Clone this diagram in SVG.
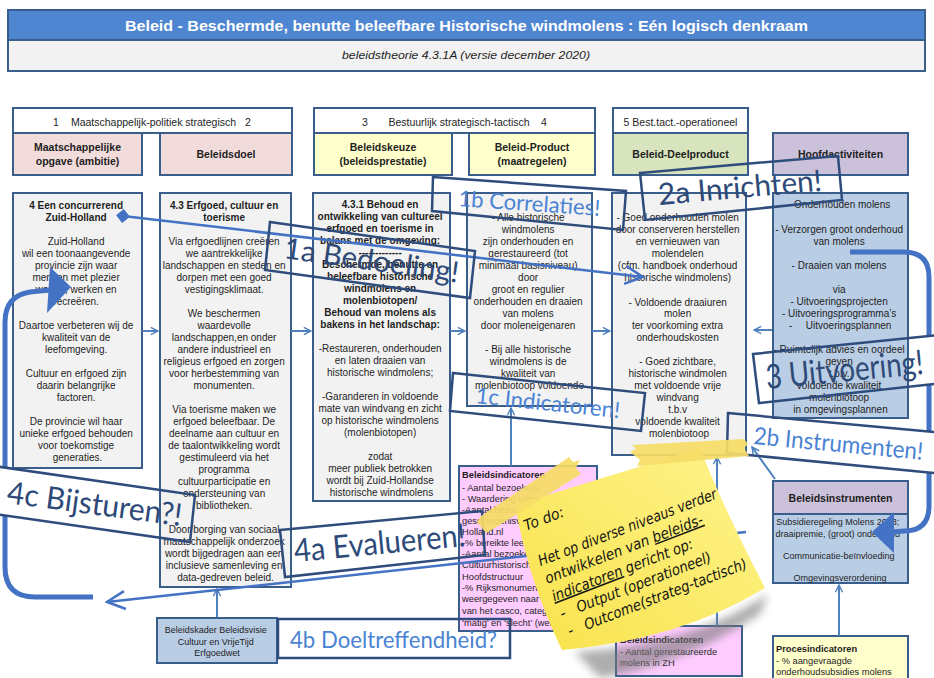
<svg xmlns="http://www.w3.org/2000/svg" width="934" height="678" viewBox="0 0 934 678">
<defs>
<style>
.bx{stroke:#3A5E8C;stroke-width:2}
.w{fill:#fff}.g{fill:#F2F2F2}.pk{fill:#F2DCDB}.yl{fill:#FFFFCC}.gr{fill:#D7E4BD}.pu{fill:#CCC1DA}.lb{fill:#B9CDE5}.mg{fill:#FFCCFF}
text{font-family:"Liberation Sans",Arial,sans-serif}
.t{font-size:10px;fill:#1E1E1E;text-anchor:middle}
.s{font-size:9px;fill:#1E1E1E;text-anchor:middle}
.sl{font-size:9.3px;fill:#1E1E1E}
.b{font-weight:bold}
.h{font-size:10.5px;font-weight:bold;fill:#1E1E1E;text-anchor:middle}
.gh{font-size:10.5px;fill:#1E1E1E;text-anchor:middle}
.cn{fill:none;stroke:#4F81BD;stroke-width:2}
.tk{fill:none;stroke:#4472C4;stroke-width:5}
.cb{fill:none;stroke:#2E4C7C;stroke-width:2.5}
.co{font-family:Lato,"Liberation Sans",sans-serif}
.dk{fill:#2D4A78}.lt{fill:#4A83D3}
.nt{font-family:"DejaVu Sans",sans-serif;font-style:oblique;font-size:15px;fill:#141414}
</style>
<marker id="oa" viewBox="0 0 10 10" refX="9" refY="5" markerWidth="9" markerHeight="9" markerUnits="userSpaceOnUse" orient="auto"><path d="M1,1 L9,5 L1,9" fill="none" stroke="#4F81BD" stroke-width="1.6"/></marker>
<marker id="oaL" viewBox="0 0 22 22" refX="20" refY="11" markerWidth="22" markerHeight="22" markerUnits="userSpaceOnUse" orient="auto"><path d="M2,2 L20,11 L2,20" fill="none" stroke="#4472C4" stroke-width="2.5"/></marker>
<marker id="dia" viewBox="0 0 14 14" refX="7" refY="7" markerWidth="14" markerHeight="14" markerUnits="userSpaceOnUse" orient="auto"><path d="M0,7 L7,0 L14,7 L7,14 Z" fill="#4472C4"/></marker>
<mask id="m" maskUnits="userSpaceOnUse" x="0" y="0" width="934" height="678">
<rect width="934" height="678" fill="#fff"/>
<polygon points="-20,464 195,495 190,542 -20,512" fill="#000"/>
<polygon points="753,354 940,335 943,383 759,403" fill="#000"/>
<polygon points="728,413 945,433 945,474 727,453" fill="#000"/>
</mask>
<linearGradient id="ng" x1="0" y1="1" x2="1" y2="0"><stop offset="0" stop-color="#F8E24A"/><stop offset="1" stop-color="#FFF48E"/></linearGradient>
<filter id="bl" x="-20%" y="-20%" width="140%" height="140%"><feGaussianBlur stdDeviation="4"/></filter>
</defs>
<rect width="934" height="678" fill="#fff"/>

<g id="title">
<rect x="8" y="10" width="917" height="30" fill="#4F86D1" stroke="#3A5E8C" stroke-width="2"/>
<rect x="8" y="40" width="917" height="31" fill="#F2F2F2" stroke="#3A5E8C" stroke-width="2"/>
<text x="466.5" y="31" text-anchor="middle" font-size="15" font-weight="bold" fill="#fff" textLength="683" lengthAdjust="spacingAndGlyphs">Beleid - Beschermde, benutte beleefbare Historische windmolens : Eén logisch denkraam</text>
<text x="466" y="59" text-anchor="middle" font-size="10.5" font-style="italic" fill="#1E1E1E" textLength="248" lengthAdjust="spacingAndGlyphs">beleidstheorie 4.3.1A  (versie december 2020)</text>
</g>

<g id="header-1">
<rect class="bx w" x="13" y="108" width="279" height="25"/>
<text class="gh" x="56" y="125.5">1</text>
<text class="gh" x="153.5" y="125.5">Maatschappelijk-politiek strategisch</text>
<text class="gh" x="248" y="125.5">2</text>
</g>
<g id="header-3">
<rect class="bx w" x="314" y="108" width="281" height="25"/>
<text class="gh" x="365" y="125.5">3</text>
<text class="gh" x="459" y="125.5">Bestuurlijk strategisch-tactisch</text>
<text class="gh" x="544" y="125.5">4</text>
</g>
<g id="header-5">
<rect class="bx w" x="613" y="108" width="135" height="25"/>
<text class="gh" x="680.5" y="125.5">5 Best.tact.-operationeel</text>
</g>
<g id="sub-opgave"><rect class="bx pk" x="13" y="133" width="129" height="42"/><text class="h" x="77.5" y="150.5">Maatschappelijke</text><text class="h" x="77.5" y="164.5">opgave (ambitie)</text></g>
<g id="sub-doel"><rect class="bx pk" x="160" y="133" width="132" height="42"/><text class="h" x="226" y="158">Beleidsdoel</text></g>
<g id="sub-keuze"><rect class="bx yl" x="314" y="133" width="138" height="42"/><text class="h" x="383" y="150.5">Beleidskeuze</text><text class="h" x="383" y="164.5">(beleidsprestatie)</text></g>
<g id="sub-product"><rect class="bx yl" x="469" y="133" width="126" height="42"/><text class="h" x="532" y="150.5">Beleid-Product</text><text class="h" x="532" y="164.5">(maatregelen)</text></g>
<g id="sub-deelproduct"><rect class="bx gr" x="613" y="133" width="135" height="42"/><text class="h" x="680.5" y="158">Beleid-Deelproduct</text></g>
<g id="sub-hoofd"><rect class="bx pu" x="773" y="133" width="135" height="42"/><text class="h" x="840.5" y="158">Hoofdactiviteiten</text></g>

<g id="col1">
<rect class="bx g" x="13" y="193" width="129" height="275"/>
<text class="t">
<tspan class="b" x="77.5" y="209">4 Een concurrerend</tspan>
<tspan class="b" x="77.5" y="221">Zuid-Holland</tspan>
<tspan x="77.5" y="245">Zuid-Holland</tspan>
<tspan x="77.5" y="257">wil een toonaangevende</tspan>
<tspan x="77.5" y="269">provincie zijn waar</tspan>
<tspan x="77.5" y="281">mensen met plezier</tspan>
<tspan x="77.5" y="293">wonen, werken en</tspan>
<tspan x="77.5" y="305">recreëren.</tspan>
<tspan x="77.5" y="329">Daartoe verbeteren wij de</tspan>
<tspan x="77.5" y="341">kwaliteit van de</tspan>
<tspan x="77.5" y="353">leefomgeving.</tspan>
<tspan x="77.5" y="377">Cultuur en erfgoed zijn</tspan>
<tspan x="77.5" y="389">daarin belangrijke</tspan>
<tspan x="77.5" y="401">factoren.</tspan>
<tspan x="77.5" y="425">De provincie wil haar</tspan>
<tspan x="77.5" y="437">unieke erfgoed behouden</tspan>
<tspan x="77.5" y="449">voor toekomstige</tspan>
<tspan x="77.5" y="461">generaties.</tspan>
</text>
</g>

<g id="col2">
<rect class="bx g" x="160" y="193" width="131" height="394"/>
<text class="t">
<tspan class="b" x="225.5" y="209">4.3 Erfgoed, cultuur en</tspan>
<tspan class="b" x="225.5" y="221">toerisme</tspan>
<tspan x="225.5" y="245">Via erfgoedlijnen creëren</tspan>
<tspan x="225.5" y="257">we aantrekkelijke</tspan>
<tspan x="225.5" y="269">landschappen en steden en</tspan>
<tspan x="225.5" y="281">dorpen met een goed</tspan>
<tspan x="225.5" y="293">vestigingsklimaat.</tspan>
<tspan x="225.5" y="317">We beschermen</tspan>
<tspan x="225.5" y="329">waardevolle</tspan>
<tspan x="225.5" y="341">landschappen,en onder</tspan>
<tspan x="225.5" y="353">andere industrieel en</tspan>
<tspan x="225.5" y="365">religieus erfgoed en zorgen</tspan>
<tspan x="225.5" y="377">voor herbestemming van</tspan>
<tspan x="225.5" y="389">monumenten.</tspan>
<tspan x="225.5" y="413">Via toerisme maken we</tspan>
<tspan x="225.5" y="425">erfgoed beleefbaar. De</tspan>
<tspan x="225.5" y="437">deelname aan cultuur en</tspan>
<tspan x="225.5" y="449">de taalontwikkeling wordt</tspan>
<tspan x="225.5" y="461">gestimuleerd via het</tspan>
<tspan x="225.5" y="473">programma</tspan>
<tspan x="225.5" y="485">cultuurparticipatie en</tspan>
<tspan x="225.5" y="497">ondersteuning van</tspan>
<tspan x="225.5" y="509">bibliotheken.</tspan>
<tspan x="225.5" y="533">Door borging van sociaal</tspan>
<tspan x="225.5" y="545">maatschappelijk onderzoek</tspan>
<tspan x="225.5" y="557">wordt bijgedragen aan een</tspan>
<tspan x="225.5" y="569">inclusieve samenleving en</tspan>
<tspan x="225.5" y="581">data-gedreven beleid.</tspan>
</text>
</g>

<g id="col3">
<rect class="bx g" x="313" y="193" width="137" height="308"/>
<text class="t">
<tspan class="b" x="381.5" y="208">4.3.1 Behoud en</tspan>
<tspan class="b" x="381.5" y="220">ontwikkeling van cultureel</tspan>
<tspan class="b" x="381.5" y="232">erfgoed en toerisme in</tspan>
<tspan class="b" x="381.5" y="244">balans met de omgeving:</tspan>
<tspan class="b" x="381.5" y="256">-------------</tspan>
<tspan class="b" x="381.5" y="268">Beschermde, benutte en</tspan>
<tspan class="b" x="381.5" y="280">beleefbare historische</tspan>
<tspan class="b" x="381.5" y="292">windmolens en</tspan>
<tspan class="b" x="381.5" y="304">molenbiotopen/</tspan>
<tspan class="b" x="381.5" y="316">Behoud van molens als</tspan>
<tspan class="b" x="381.5" y="328">bakens in het landschap:</tspan>
<tspan x="381.5" y="352">-Restaureren, onderhouden</tspan>
<tspan x="381.5" y="364">en laten draaien van</tspan>
<tspan x="381.5" y="376">historische windmolens;</tspan>
<tspan x="381.5" y="400">-Garanderen in voldoende</tspan>
<tspan x="381.5" y="412">mate van windvang en zicht</tspan>
<tspan x="381.5" y="424">op historische windmolens</tspan>
<tspan x="381.5" y="436">(molenbiotopen)</tspan>
<tspan x="381.5" y="460">zodat</tspan>
<tspan x="381.5" y="472">meer publiek betrokken</tspan>
<tspan x="381.5" y="484">wordt bij Zuid-Hollandse</tspan>
<tspan x="381.5" y="496">historische windmolens</tspan>
</text>
</g>

<g id="col4">
<rect class="bx g" x="467" y="193" width="125" height="213"/>
<text class="t">
<tspan x="529.5" y="221">- Alle historische</tspan>
<tspan x="529.5" y="233">windmolens</tspan>
<tspan x="529.5" y="245">zijn onderhouden en</tspan>
<tspan x="529.5" y="257">gerestaureerd (tot</tspan>
<tspan x="529.5" y="269">minimaal basisniveau)</tspan>
<tspan x="529.5" y="281">door</tspan>
<tspan x="529.5" y="293">groot en regulier</tspan>
<tspan x="529.5" y="305">onderhouden en draaien</tspan>
<tspan x="529.5" y="317">van molens</tspan>
<tspan x="529.5" y="329">door moleneigenaren</tspan>
<tspan x="529.5" y="353">- Bij alle historische</tspan>
<tspan x="529.5" y="365">windmolens is de</tspan>
<tspan x="529.5" y="377">kwaliteit van</tspan>
<tspan x="529.5" y="389">molenbiotoop voldoende</tspan>
</text>
</g>

<g id="col5">
<rect class="bx g" x="612" y="193" width="134" height="262"/>
<text class="t">
<tspan x="679" y="221">- Goed onderhouden molen</tspan>
<tspan x="679" y="233">door conserveren herstellen</tspan>
<tspan x="679" y="245">en vernieuwen van</tspan>
<tspan x="679" y="257">molendelen</tspan>
<tspan x="679" y="269">(cfm. handboek onderhoud</tspan>
<tspan x="679" y="281">historische windmolens)</tspan>
<tspan x="679" y="306">- Voldoende draaiuren</tspan>
<tspan x="679" y="317">molen</tspan>
<tspan x="679" y="329">ter voorkoming extra</tspan>
<tspan x="679" y="341">onderhoudskosten</tspan>
<tspan x="679" y="365">- Goed zichtbare,</tspan>
<tspan x="679" y="377">historische windmolen</tspan>
<tspan x="679" y="389">met  voldoende vrije</tspan>
<tspan x="679" y="401">windvang</tspan>
<tspan x="679" y="413">t.b.v</tspan>
<tspan x="679" y="425">voldoende kwaliteit</tspan>
<tspan x="679" y="437">molenbiotoop</tspan>
</text>
</g>

<g id="col6">
<rect class="bx lb" x="773" y="193" width="135" height="225"/>
<text class="t">
<tspan x="840.5" y="208">- Onderhouden molens</tspan>
<tspan x="840.5" y="233">- Verzorgen groot onderhoud</tspan>
<tspan x="840.5" y="245">van molens</tspan>
<tspan x="840.5" y="269">- Draaien van molens</tspan>
<tspan x="840.5" y="293">via</tspan>
<tspan x="840.5" y="305">- Uitvoeringsprojecten</tspan>
<tspan x="840.5" y="317">- Uitvoeringsprogramma’s</tspan>
<tspan x="792" y="329">-</tspan>
<tspan x="850" y="329">Uitvoeringsplannen</tspan>
<tspan x="840.5" y="353">- Ruimtelijk advies en oordeel</tspan>
<tspan x="840.5" y="365">geven</tspan>
<tspan x="840.5" y="377">t.b.v.</tspan>
<tspan x="840.5" y="389">voldoende kwaliteit</tspan>
<tspan x="840.5" y="401">molenbiotoop</tspan>
<tspan x="840.5" y="413">in omgevingsplannen</tspan>
</text>
</g>

<g id="instrumenten">
<rect class="bx pu" x="773" y="481" width="135" height="33"/>
<text class="h" x="840.5" y="502">Beleidsinstrumenten</text>
<rect class="bx lb" x="773" y="514" width="135" height="69"/>
<text class="s">
<tspan x="839" y="525">Subsidieregeling Molens 2013;</tspan>
<tspan x="839" y="537">draaipremie, (groot) onderhoud</tspan>
<tspan x="840" y="559">Communicatie-beïnvloeding</tspan>
<tspan x="840" y="581">Omgevingsverordening</tspan>
</text>
</g>

<g id="indicatoren-1">
<rect class="bx mg" x="459" y="466" width="138" height="165"/>
<text class="sl">
<tspan class="b" x="462" y="478">Beleidsindicatoren</tspan>
<tspan x="462" y="491">- Aantal bezoekers</tspan>
<tspan x="462" y="502">- Waardering erfgoedlijnen</tspan>
<tspan x="462" y="513">-Aantal bezoekers website</tspan>
<tspan x="462" y="524">geschiedenisvanZuid-</tspan>
<tspan x="462" y="535">Holland.nl</tspan>
<tspan x="462" y="546">-% bereikte leerlingen</tspan>
<tspan x="462" y="557">-Aantal bezoekers</tspan>
<tspan x="462" y="568">Cultuurhistorische</tspan>
<tspan x="462" y="580">Hoofdstructuur</tspan>
<tspan x="462" y="591">-% Rijksmonumenten</tspan>
<tspan x="462" y="602">weergegeven naar conditie</tspan>
<tspan x="462" y="614">van het casco, categorie</tspan>
<tspan x="462" y="626">‘matig’ en ‘slecht’ (wettelijk)</tspan>
</text>
</g>

<g id="indicatoren-2">
<rect class="bx mg" x="616" y="626" width="126" height="50"/>
<text class="sl">
<tspan class="b" x="620" y="643">Beleidsindicatoren</tspan>
<tspan x="620" y="655">- Aantal gerestaureerde</tspan>
<tspan x="620" y="666">molens in ZH</tspan>
</text>
</g>

<g id="procesindicatoren">
<rect class="bx yl" x="773" y="636" width="135" height="52"/>
<text class="sl">
<tspan class="b" x="776" y="652">Procesindicatoren</tspan>
<tspan x="776" y="664">- % aangevraagde</tspan>
<tspan x="776" y="675">onderhoudsubsidies molens</tspan>
</text>
</g>

<g id="beleidskader">
<rect class="bx lb" x="157" y="618" width="120" height="45"/>
<text class="s">
<tspan x="217" y="633">Beleidskader Beleidsvisie</tspan>
<tspan x="217" y="645">Cultuur en VrijeTijd</tspan>
<tspan x="217" y="656">Erfgoedwet</tspan>
</text>
</g>

<g id="connectors">
<path class="cn" marker-end="url(#oa)" d="M142,331 L158,331"/>
<path class="cn" marker-end="url(#oa)" d="M291,331 L311,331"/>
<path class="cn" marker-end="url(#oa)" d="M450,331 L465,331"/>
<path class="cn" marker-end="url(#oa)" d="M592,331 L610,331"/>
<path class="cn" marker-end="url(#oa)" d="M772,330 L754,330"/>
<path class="cn" marker-end="url(#oa)" d="M217,617 L217,589"/>
<path class="cn" marker-end="url(#oa)" d="M511,466 L511,408"/>
<path class="cn" marker-end="url(#oa)" d="M717,626 L717,457"/>
<path class="cn" marker-end="url(#oa)" d="M839,636 L839,585"/>
<path class="cn" marker-end="url(#oa)" d="M775,479 L752,447"/>
<path fill="none" stroke="#4472C4" stroke-width="2.5" marker-start="url(#dia)" marker-end="url(#oaL)" d="M123,216 L643,277"/>
<path fill="none" stroke="#4472C4" stroke-width="2.5" marker-end="url(#oaL)" d="M746,532 L107,602"/>
<g mask="url(#m)">
<path class="tk" d="M93,597 L35,597 Q5,597 5,567 L5,322 Q5,296 30,292 L50,290"/>
<polygon points="50,267 71,287 47,313" fill="#4472C4"/>
<path class="tk" d="M850,252 L904,252 Q929,252 929,277 L929,506 Q929,531 904,531 L892,532"/>
<polygon points="894,512 872,532 894,553" fill="#4472C4"/>
</g>
</g>

<g id="callouts">
<g id="c1a"><polygon class="cb" points="270,222 475,251 470,298 265,270"/><text class="co dk" x="283" y="258" font-size="29" textLength="176" lengthAdjust="spacingAndGlyphs" transform="rotate(8 283 258)">1a Bedoeling!</text></g>
<g id="c1b"><polygon class="cb" points="433,177 626,191 623,230 432,211"/><text class="co lt" x="458" y="206" font-size="22" textLength="142" lengthAdjust="spacingAndGlyphs" transform="rotate(4 458 206)">1b Correlaties!</text></g>
<g id="c1c"><polygon class="cb" points="453,373 645,393 641,431 450,411"/><text class="co lt" x="475" y="403" font-size="22" textLength="145" lengthAdjust="spacingAndGlyphs" transform="rotate(6 475 403)">1c Indicatoren!</text></g>
<g id="c2a"><polygon class="cb" points="640,173 838,156 842,200 645,220"/><text class="co dk" x="659" y="205" font-size="30" textLength="164" lengthAdjust="spacingAndGlyphs" transform="rotate(-5 659 205)">2a Inrichten!</text></g>
<g id="c2b"><polygon class="cb" points="728,413 945,433 945,474 727,453"/><text class="co lt" x="753" y="444" font-size="24" textLength="170" lengthAdjust="spacingAndGlyphs" transform="rotate(5.3 753 444)">2b Instrumenten!</text></g>
<g id="c3"><polygon class="cb" points="753,354 940,335 943,383 759,403"/><text class="co dk" x="767" y="389" font-size="34" textLength="158" lengthAdjust="spacingAndGlyphs" transform="rotate(-5.5 767 389)">3 Uitvoering!</text></g>
<g id="c4a"><polygon class="cb" points="280,530 482,511 485,555 285,577"/><text class="co dk" x="295" y="562" font-size="32" textLength="172" lengthAdjust="spacingAndGlyphs" transform="rotate(-5.3 295 562)">4a Evalueren!</text></g>
<g id="c4b"><rect class="cb" x="278" y="619" width="232" height="39"/><text class="co lt" x="290" y="648" font-size="24" textLength="207" lengthAdjust="spacingAndGlyphs">4b Doeltreffendheid?</text></g>
<g id="c4c"><polygon class="cb" points="-20,464 195,495 190,542 -20,512"/><text class="co dk" x="6" y="503" font-size="31" textLength="176" lengthAdjust="spacingAndGlyphs" transform="rotate(7.5 6 503)">4c Bijsturen?!</text></g>
</g>

<g id="note">
<path d="M575,652 Q690,646 768,594 L760,614 Q680,666 600,678 Z" fill="#777" opacity="0.6" filter="url(#bl)"/>
<path d="M515,505 L700,448 Q722,505 765,588 Q680,640 562,650 Q528,580 515,505 Z" fill="url(#ng)"/>
<g transform="translate(526,531) rotate(-21)">
<text class="nt" x="0" y="0" textLength="42" lengthAdjust="spacingAndGlyphs">To do:</text>
<text class="nt" x="1" y="38" textLength="190" lengthAdjust="spacingAndGlyphs">Het op diverse niveaus verder</text>
<text class="nt" x="1" y="57" textLength="168" lengthAdjust="spacingAndGlyphs">ontwikkelen van <tspan text-decoration="underline">beleids-</tspan></text>
<text class="nt" x="1" y="76" textLength="150" lengthAdjust="spacingAndGlyphs"><tspan text-decoration="underline">indicatoren</tspan> gericht op:</text>
<text class="nt" x="2" y="95">-</text>
<text class="nt" x="20" y="95" textLength="143" lengthAdjust="spacingAndGlyphs">Output (operationeel)</text>
<text class="nt" x="3" y="114">-</text>
<text class="nt" x="21" y="114" textLength="173" lengthAdjust="spacingAndGlyphs">Outcome(strateg-tactisch)</text>
</g>
<polygon points="486,533 477,522 481,516 569,457 573,462 580,460 576,468 581,474 490,531" fill="#F6DC66" opacity="0.92"/>
<polygon points="630,452 636,449 632,445 744,439 748,444 744,448 749,456 637,466 640,460" fill="#F6DC66" opacity="0.92"/>
</g>
</svg>
